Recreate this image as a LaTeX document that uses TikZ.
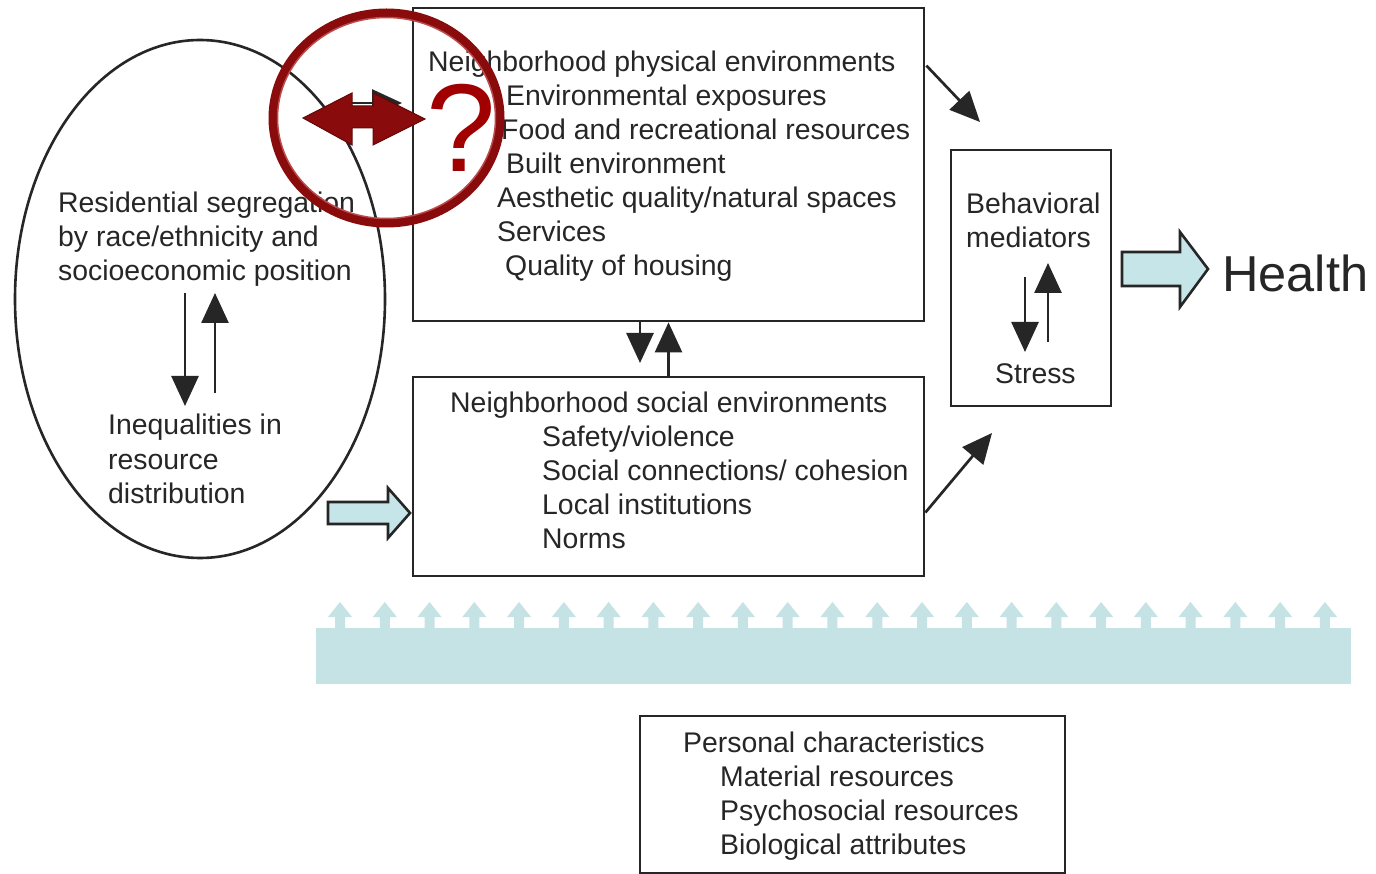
\documentclass[tikz,border=0pt]{standalone}
\usepackage{fontspec}
\setmainfont{Liberation Sans}
\usetikzlibrary{arrows.meta,calc,shapes.geometric}
\definecolor{ink}{HTML}{262626}
\definecolor{tealfill}{HTML}{C6E5E8}
\definecolor{bandcol}{HTML}{C5E2E4}
\definecolor{dred}{HTML}{8A0B0B}
\definecolor{qred}{HTML}{A00000}
\begin{document}
\begin{tikzpicture}[x=1pt,y=-1pt,
  box/.style={draw=ink, line width=2.8pt, rectangle, inner sep=0pt},
  txt/.style={anchor=base west, inner sep=0pt, font=\fontsize{28.4}{34}\selectfont, text=ink},
  arr/.style={draw=ink, line width=2.7pt, -{Triangle[length=30pt,width=27pt]}},
  blockarrow/.style={draw=ink, line width=2.6pt, fill=tealfill, line join=miter},
  smallup/.style={fill=bandcol, draw=none}]
\useasboundingbox (0,0) rectangle (1376,874);
\fill[white] (0,0) rectangle (1376,874);

% boxes
\node[box, minimum width=511pt, minimum height=313pt] (phys) at (668.5,164.5) {};
\node[box, minimum width=511pt, minimum height=199pt] (soc) at (668.5,476.5) {};
\node[box, minimum width=160pt, minimum height=256pt] (beh) at (1031,278) {};
\node[box, minimum width=425pt, minimum height=157pt] (pers) at (852.5,794.5) {};
\node[draw=ink, line width=2.6pt, ellipse, inner sep=0pt, minimum width=370pt, minimum height=518pt] (ell) at (200,299) {};

% ellipse text
\node[txt] (t1) at (58,213) {Residential segregation};
\node[txt] (t2) at (58,247) {by race/ethnicity and};
\node[txt] (t3) at (58,281) {socioeconomic position};
\node[txt] (t4) at (108,435) {Inequalities in};
\node[txt] (t5) at (108,469) {resource};
\node[txt] (t6) at (108,503) {distribution};

% physical text
\node[txt] (p0) at (428,72) {Neighborhood physical environments};
\node[txt] (p1) at (506,106) {Environmental exposures};
\node[txt] (p2) at (501,140) {Food and recreational resources};
\node[txt] (p3) at (506,174) {Built environment};
\node[txt] (p4) at (497,208) {Aesthetic quality/natural spaces};
\node[txt] (p5) at (497,242) {Services};
\node[txt] (p6) at (505,276) {Quality of housing};

% social text
\node[txt] (s0) at (450,412) {Neighborhood social environments};
\node[txt] (s1) at (542,446) {Safety/violence};
\node[txt] (s2) at (542,480) {Social connections/ cohesion};
\node[txt] (s3) at (542,514) {Local institutions};
\node[txt] (s4) at (542,548) {Norms};

% behavioral
\node[txt] (b0) at (966,214) {Behavioral};
\node[txt] (b1) at (966,248) {mediators};
\node[txt] (b2) at (995,384) {Stress};

% personal
\node[txt] (c0) at (683,752) {Personal characteristics};
\node[txt] (c1) at (720,786) {Material resources};
\node[txt] (c2) at (720,820) {Psychosocial resources};
\node[txt] (c3) at (720,854) {Biological attributes};

% health
\node[anchor=base west, inner sep=0pt, font=\fontsize{50.5}{60}\selectfont, text=ink] (health) at (1222,292) {Health};

% free-end coordinates
\coordinate (e1t) at (185,293);
\coordinate (e1b) at (185,406);
\coordinate (e2b) at (215,393);
\coordinate (e2t) at (215,293);
\coordinate (m1) at (640,363);
\coordinate (bd1t) at (1025,277);
\coordinate (bd1b) at (1025,352);
\coordinate (bu1b) at (1048,342);
\coordinate (bu1t) at (1048,263);
\coordinate (dg1) at (980,122);
\coordinate (dg2) at (992,433);

% arrows
\draw[arr] (e1t) -- (e1b);
\draw[arr] (e2b) -- (e2t);
\draw[arr] ($(phys.south)+(-28.5,0)$) -- (m1);
\draw[arr] (soc.north) -- (phys.south);
\draw[arr] (bd1t) -- (bd1b);
\draw[arr] (bu1b) -- (bu1t);
\draw[arr] ($(phys.north east)+(1,59)$) -- (dg1);
\draw[arr] ($(soc.east)+(0,36)$) -- (dg2);

% block arrows
\draw[blockarrow] (328,502) -- (388,502) -- (388,488) -- (410,513) -- (388,538) -- (388,524) -- (328,524) -- cycle;
\draw[blockarrow] (1122,252) -- (1180,252) -- (1180,232) -- (1208,269) -- (1180,307) -- (1180,286) -- (1122,286) -- cycle;

% band with small arrows
\fill[bandcol] (316,628) rectangle (1351,684);
\foreach \i in {0,...,22}{
  \pgfmathsetmacro{\xx}{340+\i*44.77}
  \fill[smallup] (\xx-5,629) -- (\xx-5,617) -- (\xx-12,617) -- (\xx,602) -- (\xx+12,617) -- (\xx+5,617) -- (\xx+5,629) -- cycle;
}

% hidden black arrow under overlay
\coordinate (hb1) at (345,103);
\coordinate (hb2) at (402,103);
\draw[arr] (hb1) -- (hb2);

% red overlay
\draw[dred, line width=9pt] (386.5,118) ellipse [x radius=113.5, y radius=105];
\draw[qred!70!white, line width=1.5pt] (386.5,118) ellipse [x radius=109, y radius=100.5];
\filldraw[fill=dred, draw=dred!70!black, line width=1pt, line join=miter]
  (303,118) -- (352,93) -- (352,106) -- (373,106) -- (373,93) -- (425,119) -- (373,145) -- (373,128) -- (352,128) -- (352,145) -- cycle;
\node[anchor=base west, inner sep=0pt, font=\fontsize{125}{130}\selectfont, text=qred] (q) at (426,172) {?};
\end{tikzpicture}
\end{document}
